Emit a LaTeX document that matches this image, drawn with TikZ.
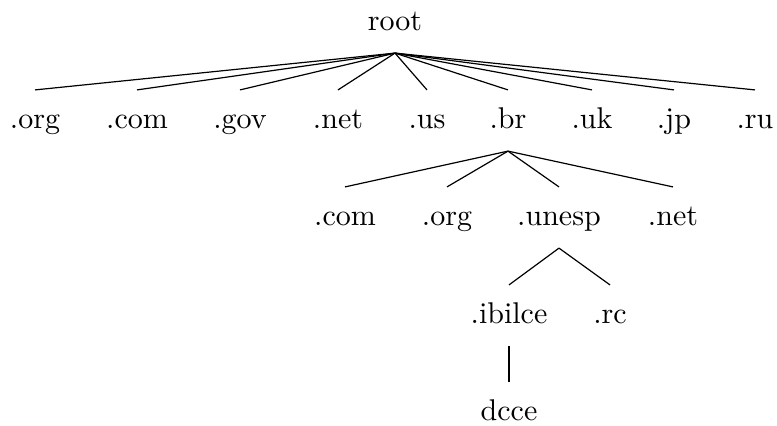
\documentclass[tikz,border=0pt]{standalone}
\begin{document}
\begin{tikzpicture}[x=0.33333pt, y=-0.33333pt,
  dn/.style={anchor=base, text height=9pt, text depth=4pt, inner sep=3.5pt},
  edge/.style={draw, line width=0.4pt}]
\useasboundingbox (0,0) rectangle (777,425);
% root
\node[dn] (root) at (395,30) {root};
% top-level domains
\node[dn] (org) at (35,128) {.org};
\node[dn] (com) at (137,128) {.com};
\node[dn] (gov) at (240,128) {.gov};
\node[dn] (net) at (338,128) {.net};
\node[dn] (us)  at (427,128) {.us};
\node[dn] (br)  at (508,128) {.br};
\node[dn] (uk)  at (592,128) {.uk};
\node[dn] (jp)  at (674,128) {.jp};
\node[dn] (ru)  at (755,128) {.ru};
% under .br
\node[dn] (brcom)   at (345,225) {.com};
\node[dn] (brorg)   at (447,225) {.org};
\node[dn] (unesp)   at (559,225) {.unesp};
\node[dn] (brnet)   at (673,225) {.net};
% under .unesp
\node[dn] (ibilce) at (509,323) {.ibilce};
\node[dn] (rc)     at (610,323) {.rc};
% under .ibilce
\node[dn] (dcce) at (509,420) {dcce};
% branches
\foreach \c in {org,com,gov,net,us,br,uk,jp,ru}
  \draw[edge] (root.south) -- (\c.north);
\foreach \c in {brcom,brorg,unesp,brnet}
  \draw[edge] (br.south) -- (\c.north);
\foreach \c in {ibilce,rc}
  \draw[edge] (unesp.south) -- (\c.north);
\draw[edge] (ibilce.south) -- (dcce.north);
\end{tikzpicture}
\end{document}
